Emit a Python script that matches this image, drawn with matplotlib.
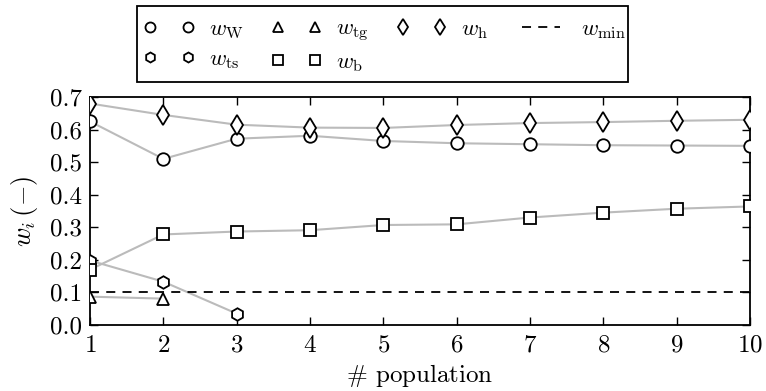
import matplotlib
matplotlib.use("Agg")
import matplotlib.pyplot as plt
from matplotlib.patches import Rectangle

plt.rcParams['font.family'] = 'serif'
plt.rcParams['font.serif'] = ['cmr10', 'DejaVu Serif']
plt.rcParams['mathtext.fontset'] = 'cm'
plt.rcParams['axes.formatter.use_mathtext'] = True
plt.rcParams['axes.unicode_minus'] = False

population = [1, 2, 3, 4, 5, 6, 7, 8, 9, 10]
w_W = [0.625, 0.51, 0.572, 0.581, 0.565, 0.558, 0.555, 0.552, 0.551, 0.550]
w_ts = [0.198, 0.133, 0.035]
w_tg = [0.087, 0.081]
w_b = [0.170, 0.278, 0.287, 0.291, 0.307, 0.309, 0.330, 0.345, 0.357, 0.364]
w_h = [0.680, 0.645, 0.615, 0.606, 0.605, 0.614, 0.620, 0.623, 0.627, 0.630]
w_min = 0.1
yticks = [0.0, 0.1, 0.2, 0.3, 0.4, 0.5, 0.6, 0.7]

W, H = 766, 391
fig = plt.figure(figsize=(W / 100, H / 100), dpi=100)
ax = fig.add_axes([90 / W, 1 - 325 / H, 660 / W, 228 / H])

line_kw = dict(color='#bbbbbb', lw=1.5, zorder=1)
mk_kw = dict(ls='none', mfc='white', mec='black', mew=1.3, zorder=3)

series = [
    (w_W, 'o', r'$w_{\mathrm{W}}$', 9.0),
    (w_ts, 'h', r'$w_{\mathrm{ts}}$', 9.0),
    (w_tg, '^', r'$w_{\mathrm{tg}}$', 9.0),
    (w_b, 's', r'$w_{\mathrm{b}}$', 8.5),
    (w_h, 'd', r'$w_{\mathrm{h}}$', 10.0),
]
handles = []
for vals, m, lab, ms in series:
    xs = population[:len(vals)]
    ax.plot(xs, vals, **line_kw)
    h, = ax.plot(xs, vals, marker=m, label=lab, ms=ms, **mk_kw)
    handles.append(h)
hmin = ax.axhline(w_min, color='black', ls=(0, (5, 4)), lw=1.3, label=r'$w_{\min}$', zorder=2)
handles.append(hmin)

ax.set_xlim(1, 10)
ax.set_ylim(0, 0.7)
ax.set_xticks(population)
ax.set_yticks(yticks)
ax.set_yticklabels([f'{v:.1f}' for v in yticks])
ax.tick_params(direction='in', top=True, right=True, length=6, width=1, labelsize=18)
ax.tick_params(axis='x', pad=7)
ax.tick_params(axis='y', pad=6)
for s in ax.spines.values():
    s.set_linewidth(1.3)
ax.set_xlabel(r'$\#$ population', fontsize=18, labelpad=4)
ax.set_ylabel(r'$w_i\,(-)$', fontsize=19, labelpad=7)

# legend (frame drawn separately to match the box proportions)
leg = fig.legend(handles=handles, ncol=4, numpoints=2, loc='upper left',
                 bbox_to_anchor=(132 / W, 1 - 82 / H, 505 / W, 74 / H), mode='expand',
                 fontsize=16.5, markerscale=0.8, frameon=False,
                 handlelength=2.25, borderpad=0.5, borderaxespad=0,
                 labelspacing=0.35, handletextpad=0.6)
fig.add_artist(Rectangle((137 / W, 1 - 82 / H), 491 / W, 76 / H,
                         transform=fig.transFigure, fill=False,
                         edgecolor='black', lw=1.3))

fig.savefig('out.png', dpi=100)
